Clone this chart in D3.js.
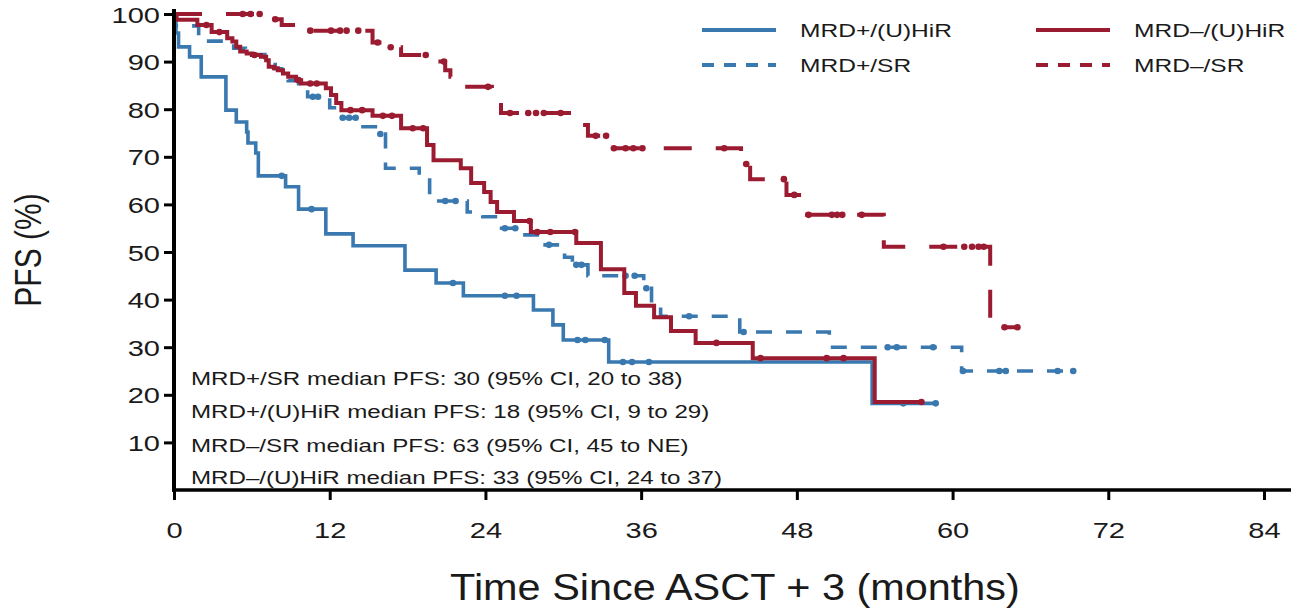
<!DOCTYPE html>
<html>
<head>
<meta charset="utf-8">
<script src="https://cdn.jsdelivr.net/npm/d3@7"></script>
<style>
  body { margin: 0; background: #fff; }
  text { font-family: "Liberation Sans", Arial, sans-serif; fill: #1a1a1a; }
</style>
</head>
<body>
<svg id="chart" width="1291" height="613"></svg>
<script>
// ---- axis ticks ----
const monthTicks = [0, 12, 24, 36, 48, 60, 72, 84];
const pfsTicks = [10, 20, 30, 40, 50, 60, 70, 80, 90, 100];

// ---- Kaplan-Meier step data (time in months, PFS in %) ----
// MRD+/(U)HiR
const posHirTime = [0, 0.15, 0.35, 1.2, 2.1, 4.0, 4.8, 5.6, 5.7, 6.3, 6.5, 8.6, 9.6, 11.7, 13.8, 17.8, 20.2, 22.3, 27.7, 29.2, 30.0, 33.5, 53.8];
const posHirPfs  = [100, 96.0, 93.1, 91.0, 86.8, 79.8, 77.3, 75.2, 72.9, 70.8, 66.0, 63.7, 59.0, 53.8, 51.3, 46.2, 43.5, 40.8, 37.8, 34.7, 31.5, 26.9, 18.2];
const posHirCensor = [8.3, 10.6, 21.5, 25.5, 26.4, 31.1, 31.7, 33.2, 34.6, 35.3, 36.6, 56.2, 58.7];
const posHirEnd = 58.7;

// MRD+/SR
const posSrTime = [0, 0.1, 1.9, 4.6, 5.5, 7.0, 7.8, 8.3, 8.8, 9.6, 10.3, 12.0, 12.6, 14.4, 15.9, 16.3, 18.9, 19.7, 22.6, 23.8, 25.0, 26.9, 28.6, 30.1, 30.7, 31.9, 36.2, 36.8, 37.5, 43.6, 50.5, 60.7];
const posSrPfs  = [100, 97.5, 94.3, 92.8, 91.5, 90.3, 88.5, 87.2, 86.0, 84.4, 82.6, 80.3, 78.2, 76.3, 74.8, 67.6, 66.2, 60.7, 58.4, 57.4, 55.0, 53.6, 51.5, 48.9, 47.3, 45.0, 42.4, 38.8, 36.5, 33.2, 30.0, 25.0];
const posSrCensor = [10.7, 11.1, 13.0, 13.5, 14.0, 15.9, 20.9, 21.7, 25.5, 26.3, 28.9, 31.0, 31.4, 34.8, 35.5, 36.4, 39.7, 43.9, 55.0, 55.7, 58.5, 60.8, 63.6, 64.1, 68.1, 69.3];
const posSrEnd = 69.3;

// MRD-/(U)HiR
const negHirTime = [0, 0.2, 1.8, 2.9, 4.1, 4.5, 4.8, 5.1, 5.6, 6.0, 6.7, 7.1, 7.3, 7.7, 8.0, 8.4, 8.8, 9.4, 9.8, 11.7, 12.1, 12.5, 12.9, 15.3, 17.5, 19.5, 20.0, 22.1, 22.9, 23.9, 24.4, 24.9, 26.2, 27.5, 31.0, 32.9, 34.7, 35.6, 37.0, 38.3, 40.2, 44.6, 54.0];
const negHirPfs  = [100, 98.8, 97.7, 96.2, 94.9, 94.2, 93.1, 92.1, 91.7, 91.4, 91.0, 90.3, 88.9, 88.6, 88.2, 87.5, 86.8, 86.1, 85.4, 84.4, 83.0, 81.3, 79.8, 78.6, 76.0, 72.5, 69.3, 67.6, 64.5, 62.6, 60.5, 58.4, 56.5, 54.2, 51.9, 46.4, 41.4, 38.7, 36.3, 33.4, 30.9, 27.7, 18.5];
const negHirCensor = [2.5, 3.5, 6.2, 9.6, 10.5, 11.0, 13.6, 14.5, 16.1, 16.8, 18.4, 19.2, 27.4, 28.0, 29.0, 30.9, 41.8, 45.2, 50.3, 51.6, 57.6];
const negHirEnd = 57.6;

// MRD-/SR
const negSrTime = [0, 7.0, 8.3, 9.9, 15.3, 16.5, 17.5, 20.3, 20.9, 21.3, 22.2, 24.5, 25.2, 30.6, 31.9, 33.5, 43.7, 44.4, 47.2, 48.5, 54.7, 62.9];
const negSrPfs  = [100, 98.9, 97.7, 96.5, 94.0, 93.0, 91.4, 90.0, 88.2, 86.8, 84.7, 81.8, 79.2, 76.7, 74.4, 71.8, 68.5, 65.3, 62.0, 57.8, 51.1, 34.2];
const negSrCensor = [5.3, 5.9, 6.6, 7.8, 10.5, 12.1, 12.8, 13.3, 14.2, 15.7, 16.7, 19.4, 20.8, 24.2, 25.9, 27.3, 27.9, 28.5, 29.8, 32.5, 33.3, 33.9, 34.8, 35.4, 36.1, 42.4, 44.1, 47.0, 47.8, 48.9, 50.7, 51.1, 51.5, 53.0, 59.3, 60.9, 61.5, 62.0, 62.4, 64.0, 65.0];
const negSrEnd = 65.0;

// ---- labels ----
const legendLabels = ["MRD+/(U)HiR", "MRD+/SR", "MRD\u2013/(U)HiR", "MRD\u2013/SR"];
const medianNotes = [
  "MRD+/SR median PFS: 30 (95% CI, 20 to 38)",
  "MRD+/(U)HiR median PFS: 18 (95% CI, 9 to 29)",
  "MRD\u2013/SR median PFS: 63 (95% CI, 45 to NE)",
  "MRD\u2013/(U)HiR median PFS: 33 (95% CI, 24 to 37)"
];
const xTitle = "Time Since ASCT + 3 (months)";
const yTitle = "PFS (%)";

// ---- styling ----
const BLUE = "#3a78b0";
const RED = "#9b1b31";
const STRETCH = 1.32;   // typeface width factor

const series = [
  { name: legendLabels[0], t: posHirTime, s: posHirPfs, c: posHirCensor, end: posHirEnd, color: BLUE, dash: null, w: 3.6 },
  { name: legendLabels[1], t: posSrTime,  s: posSrPfs,  c: posSrCensor,  end: posSrEnd,  color: BLUE, dash: "16,14", w: 3.6 },
  { name: legendLabels[2], t: negHirTime, s: negHirPfs, c: negHirCensor, end: negHirEnd, color: RED,  dash: null, w: 4 },
  { name: legendLabels[3], t: negSrTime,  s: negSrPfs,  c: negSrCensor,  end: negSrEnd,  color: RED,  dash: "28,24", w: 4 }
];

const svg = d3.select("#chart");
const x = d3.scaleLinear().domain([0, 84]).range([174, 1264]);
const y = d3.scaleLinear().domain([0, 100]).range([490, 14]);

// value of a KM step function at time tt
function stepAt(sr, tt) {
  let v = sr.s[0];
  for (let i = 0; i < sr.t.length; i++) if (sr.t[i] <= tt) v = sr.s[i];
  return v;
}

const line = d3.line().x(d => x(d[0])).y(d => y(d[1])).curve(d3.curveStepAfter);

// curves
const curves = svg.append("g");
series.forEach(sr => {
  const pts = sr.t.map((t, i) => [t, sr.s[i]]);
  pts.push([sr.end, sr.s[sr.s.length - 1]]);
  curves.append("path")
    .attr("d", line(pts))
    .attr("fill", "none")
    .attr("stroke", sr.color)
    .attr("stroke-width", sr.w)
    .attr("stroke-dasharray", sr.dash);
  curves.append("g").selectAll("circle")
    .data(sr.c)
    .join("circle")
    .attr("cx", d => x(d))
    .attr("cy", d => y(stepAt(sr, d)))
    .attr("r", 3.3)
    .attr("fill", sr.color);
});

// x axis
const gx = svg.append("g").attr("transform", `translate(0,${y(0)})`)
  .call(d3.axisBottom(x).tickValues(monthTicks).tickSize(10).tickSizeOuter(0));
gx.select(".domain").remove();
gx.selectAll(".tick line").attr("stroke", "#000").attr("stroke-width", 3);
gx.selectAll(".tick text")
  .attr("y", null).attr("dy", null)
  .attr("fill", "#1a1a1a")
  .style("font-size", "22px")
  .attr("transform", `translate(0,48) scale(${STRETCH},1)`);
svg.append("line")
  .attr("x1", x(0) - 2).attr("x2", 1291)
  .attr("y1", y(0)).attr("y2", y(0))
  .attr("stroke", "#000").attr("stroke-width", 3.5);

// y axis
const gy = svg.append("g").attr("transform", `translate(${x(0)},0)`)
  .call(d3.axisLeft(y).tickValues(pfsTicks).tickSize(10).tickSizeOuter(0));
gy.select(".domain").remove();
gy.selectAll(".tick line").attr("stroke", "#000").attr("stroke-width", 3);
gy.selectAll(".tick text")
  .attr("x", null).attr("dy", null)
  .attr("fill", "#1a1a1a")
  .style("font-size", "22px")
  .attr("transform", `translate(-14,8) scale(${STRETCH},1)`);
svg.append("line")
  .attr("x1", x(0)).attr("x2", x(0))
  .attr("y1", y(0) + 1.5).attr("y2", 9)
  .attr("stroke", "#000").attr("stroke-width", 4);

// axis titles
svg.append("text")
  .attr("text-anchor", "middle")
  .style("font-size", "37px")
  .attr("transform", `translate(735,600) scale(1.12,1)`)
  .text(xTitle);
svg.append("text")
  .attr("text-anchor", "middle")
  .style("font-size", "30px")
  .attr("transform", `translate(41,250) scale(1.2,1) rotate(-90)`)
  .text(yTitle);

// legend
const legendPos = [[702, 30], [702, 65], [1036, 30], [1036, 65]];
series.forEach((sr, i) => {
  const [lx, ly] = legendPos[i];
  svg.append("line")
    .attr("x1", lx).attr("x2", lx + 74)
    .attr("y1", ly).attr("y2", ly)
    .attr("stroke", sr.color).attr("stroke-width", 4)
    .attr("stroke-dasharray", sr.dash ? "12,10" : null);
  svg.append("text")
    .style("font-size", "18.6px")
    .attr("transform", `translate(${lx + 98},${ly + 7}) scale(${STRETCH},1)`)
    .text(sr.name);
});

// median PFS notes
const noteBase = [385, 418, 452, 484];
medianNotes.forEach((txt, i) => {
  svg.append("text")
    .style("font-size", "18.3px")
    .attr("transform", `translate(191,${noteBase[i]}) scale(${STRETCH},1)`)
    .text(txt);
});
</script>
</body>
</html>
